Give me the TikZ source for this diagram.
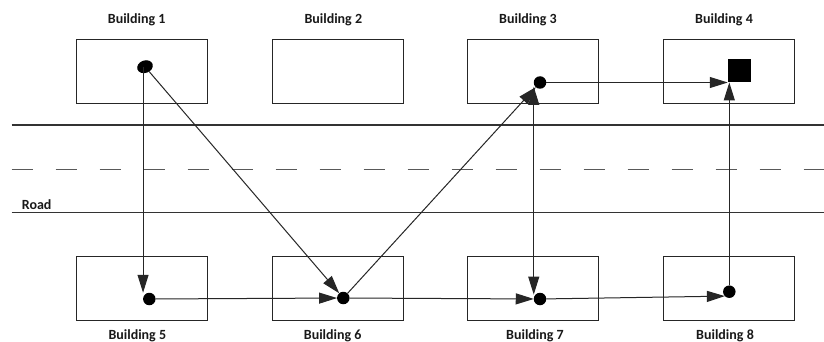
\documentclass[tikz,border=0pt]{standalone}
\usepackage{fontspec}
\setmainfont{Carlito}
\usetikzlibrary{arrows.meta,shapes.geometric}

\begin{document}
\begin{tikzpicture}[x=1pt,y=-1pt,
  bldg/.style={draw=black!85, line width=1.2pt, minimum width=131pt, minimum height=64pt, inner sep=0pt},
  lbl/.style={font=\bfseries\fontsize{14}{16}\selectfont, text=black!90, anchor=base, inner sep=0pt},
  spot/.style={circle, fill=black, minimum size=12.5pt, inner sep=0pt, outer sep=0pt},
  link/.style={line width=1pt, draw=black!85, -{Triangle[length=18pt,width=11pt]}},
  both/.style={line width=1pt, draw=black!85, {Triangle[length=18pt,width=11pt]}-{Triangle[length=18pt,width=11pt]}},
  road/.style={line width=1.1pt, draw=black!80},
]
\fill[white] (0,0) rectangle (824,342);
\useasboundingbox (0,0) rectangle (824,342);

% road edges and centre line
\draw[road] (11.7,125) -- (824,125);
\draw[road, draw=black!65, dash pattern=on 21.7pt off 22.3pt] (11.7,169.3) -- (824,169.3);
\draw[road] (11.7,212.7) -- (824,212.7);
\node[lbl, anchor=base west] (roadlbl) at (21.7,209.3) {Road};

% buildings north of the road
\node[bldg] (b1) at (141.7,71.3) {};
\node[bldg] (b2) at (338.3,71.3) {};
\node[bldg] (b3) at (533.3,71.3) {};
\node[bldg] (b4) at (728.8,71.3) {};
\node[lbl] (t1) at (136.7,24) {Building 1};
\node[lbl] (t2) at (333.3,24) {Building 2};
\node[lbl] (t3) at (528,24) {Building 3};
\node[lbl] (t4) at (724,24) {Building 4};

% buildings south of the road
\node[bldg] (b5) at (141.7,288.8) {};
\node[bldg] (b6) at (338.3,288.8) {};
\node[bldg] (b7) at (533.3,288.8) {};
\node[bldg] (b8) at (728.8,288.8) {};
\node[lbl] (t5) at (137.3,339.5) {Building 5};
\node[lbl] (t6) at (332.7,339.5) {Building 6};
\node[lbl] (t7) at (535,339.5) {Building 7};
\node[lbl] (t8) at (725,339.5) {Building 8};

% points inside the buildings
\node[ellipse, fill=black, minimum width=16pt, minimum height=12.5pt, inner sep=0pt, outer sep=0pt, rotate=20] (d1) at (145,66.7) {};
\node[spot] (d3) at (540,82.5) {};
\node[fill=black, minimum size=23.3pt, inner sep=0pt, outer sep=0pt] (sq) at (739.4,70.8) {};
\node[spot] (d5) at (149.3,299) {};
\node[spot] (d6) at (343.3,298) {};
\node[spot] (d7) at (540,299) {};
\node[spot] (d8) at (729.3,291.7) {};

% routes
\draw[link] (d5.west |- d1.center) -- (d5.west |- d5.north);
\draw[link] (d1) -- (d6);
\draw[link] (d5) -- (d6);
\draw[link] (d6) -- (d3);
\draw[both] (d7.west |- d3.south west) -- (d7.west |- d7.north west);
\draw[link] (d3) -- (d3 -| sq.west);
\draw[link] (d6) -- (d7);
\draw[link] (d7) -- (d8.south west);
\draw[link] (d8) -- (d8 |- sq.south);
\end{tikzpicture}
\end{document}
